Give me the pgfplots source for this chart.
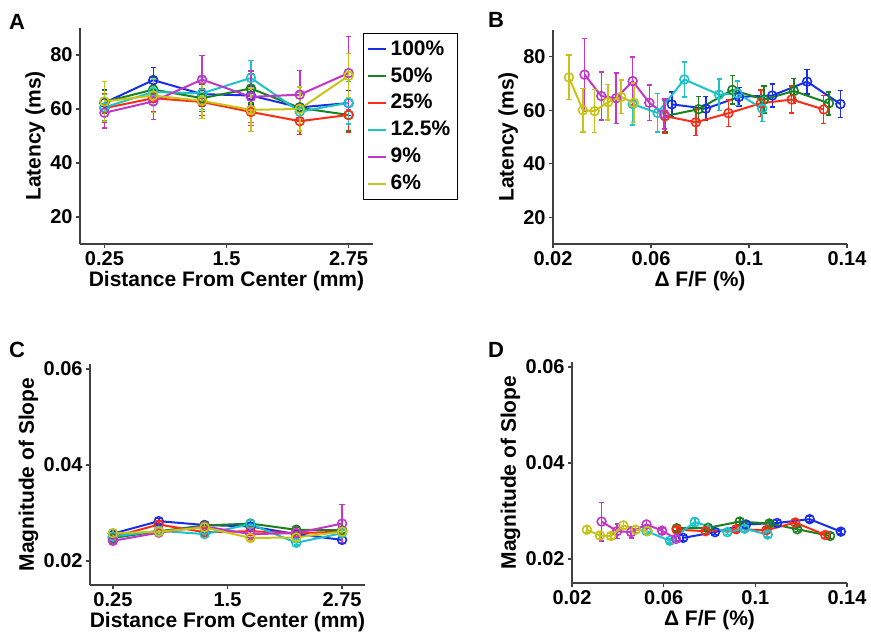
\documentclass[border=0pt]{standalone}
\usepackage{pgfplots}
\pgfplotsset{compat=1.18}
\usepackage{pgfplotstable}
\usepackage{fontspec}
\setmainfont{Liberation Sans}

\definecolor{mblue}{RGB}{25,45,235}
\definecolor{mgreen}{RGB}{25,130,30}
\definecolor{mred}{RGB}{250,45,25}
\definecolor{mcyan}{RGB}{30,195,200}
\definecolor{mmag}{RGB}{195,55,200}
\definecolor{myel}{RGB}{200,195,25}

% columns: distance, dF/F, latency (+/-), slope magnitude (+/-)
\pgfplotstableread{
dist dff    lat  laterr slope  slopeerr
0.25 0.1373 62.3 5.0 0.0257 0.0005
0.75 0.1237 70.7 4.6 0.0283 0.0006
1.25 0.1095 65.5 4.3 0.0275 0.0005
1.75 0.0959 65.0 3.5 0.0272 0.0005
2.25 0.0824 60.6 4.5 0.0256 0.0005
2.75 0.0685 62.2 4.7 0.0244 0.0005
}\tblue
\pgfplotstableread{
dist dff    lat  laterr slope  slopeerr
0.25 0.1326 62.6 4.3 0.0248 0.0005
0.75 0.1183 67.2 4.7 0.0262 0.0005
1.25 0.1061 64.0 5.0 0.0274 0.0005
1.75 0.0932 67.6 5.3 0.0278 0.0006
2.25 0.0794 60.4 4.8 0.0265 0.0005
2.75 0.0657 57.8 6.0 0.0264 0.0006
}\tgreen
\pgfplotstableread{
dist dff    lat  laterr slope  slopeerr
0.25 0.1305 60.3 5.2 0.0250 0.0005
0.75 0.1174 64.0 5.0 0.0276 0.0007
1.25 0.1048 62.6 5.0 0.0260 0.0005
1.75 0.0916 58.9 5.0 0.0262 0.0006
2.25 0.0783 55.5 5.0 0.0258 0.0005
2.75 0.0657 57.8 6.5 0.0261 0.0006
}\tred
\pgfplotstableread{
dist dff    lat  laterr slope  slopeerr
0.25 0.1054 60.6 4.8 0.0251 0.0005
0.75 0.0953 66.3 4.6 0.0263 0.0006
1.25 0.0878 65.8 5.9 0.0256 0.0005
1.75 0.0736 71.5 6.5 0.0277 0.0008
2.25 0.0627 59.0 7.2 0.0238 0.0005
2.75 0.0525 62.3 7.8 0.0258 0.0006
}\tcyan
\pgfplotstableread{
dist dff    lat  laterr slope  slopeerr
0.25 0.0654 58.6 5.6 0.0242 0.0005
0.75 0.0593 62.8 6.6 0.0259 0.0006
1.25 0.0525 70.9 9.0 0.0272 0.0008
1.75 0.0458 64.5 9.5 0.0256 0.0012
2.25 0.0397 65.3 9.0 0.0258 0.0015
2.75 0.0329 73.3 13.5 0.0278 0.0040
}\tmag
\pgfplotstableread{
dist dff    lat  laterr slope  slopeerr
0.25 0.0530 62.8 7.4 0.0258 0.0008
0.75 0.0478 65.0 6.3 0.0261 0.0007
1.25 0.0424 63.0 6.6 0.0270 0.0008
1.75 0.0370 59.7 8.0 0.0248 0.0006
2.25 0.0322 60.0 8.2 0.0249 0.0006
2.75 0.0265 72.3 8.3 0.0261 0.0007
}\tyel

\pgfplotsset{
  panel/.style={
    scale only axis,
    axis x line*=bottom, axis y line*=left,
    x axis line style={-}, y axis line style={-},
    axis line style={black!75, line width=0.6pt},
    tick style={black!75, line width=0.6pt},
    tick align=outside, major tick length=2pt,
    scaled ticks=false,
    ticklabel style={font=\fontsize{10}{12}\selectfont\bfseries, inner sep=1.5pt},
    label style={font=\fontsize{10.5}{12.5}\selectfont\bfseries},
    xlabel style={inner sep=1pt},
    ylabel style={inner sep=1pt},
    legend image code/.code={\draw[#1, mark=none, line width=1pt] (0pt,0pt) -- (9pt,0pt);},
  },
  ser/.style={color=#1, solid, line width=1pt, mark=o, mark size=2.2pt,
    mark options={solid, line width=0.8pt},
    error bars/y dir=both, error bars/y explicit,
    error bars/error bar style={line width=0.75pt},
    error bars/error mark options={line width=0.75pt, mark size=1.3pt, rotate=90}},
  latA/.style={ymin=10, ymax=90, ytick={20,40,60,80}, yticklabels={20,40,60,80},
    ylabel={Latency (ms)}},
  slopeA/.style={ymin=0.015, ymax=0.061, ytick={0.02,0.04,0.06},
    yticklabels={0.02,0.04,0.06}, ylabel={Magnitude of Slope}},
  distX/.style={xmin=0, xmax=3, xtick={0.25,1.5,2.75}, xticklabels={0.25,1.5,2.75},
    xlabel={Distance From Center (mm)}},
  dffX/.style={xmin=0.02, xmax=0.14, xtick={0.02,0.06,0.1,0.14},
    xticklabels={0.02,0.06,0.1,0.14}, xlabel={Δ F/F (\%)}},
}

\begin{document}
\begin{tikzpicture}
\path[use as bounding box] (0,0) rectangle (435.5pt,318pt);

% A
\begin{axis}[panel, latA, distX, at={(40pt,196pt)}, anchor=south west,
  width=146.5pt, height=108pt,
  legend style={at={(rel axis cs:0.966,0.977)}, anchor=north west,
    draw=black, line width=0.6pt, inner sep=1.5pt, row sep=0.6pt,
    font=\fontsize{10.5}{12.5}\selectfont\bfseries},
  legend cell align=left]
\addplot[ser=mblue] table[x=dist, y=lat, y error=laterr] {\tblue};
\addplot[ser=mgreen] table[x=dist, y=lat, y error=laterr] {\tgreen};
\addplot[ser=mred] table[x=dist, y=lat, y error=laterr] {\tred};
\addplot[ser=mcyan] table[x=dist, y=lat, y error=laterr] {\tcyan};
\addplot[ser=mmag] table[x=dist, y=lat, y error=laterr] {\tmag};
\addplot[ser=myel] table[x=dist, y=lat, y error=laterr] {\tyel};
\legend{100\%, 50\%, 25\%, 12.5\%, 9\%, 6\%}
\end{axis}

% B
\begin{axis}[panel, latA, dffX, at={(276.5pt,196pt)}, anchor=south west,
  width=147pt, height=107pt]
\addplot[ser=mblue] table[x=dff, y=lat, y error=laterr] {\tblue};
\addplot[ser=mgreen] table[x=dff, y=lat, y error=laterr] {\tgreen};
\addplot[ser=mred] table[x=dff, y=lat, y error=laterr] {\tred};
\addplot[ser=mcyan] table[x=dff, y=lat, y error=laterr] {\tcyan};
\addplot[ser=mmag] table[x=dff, y=lat, y error=laterr] {\tmag};
\addplot[ser=myel] table[x=dff, y=lat, y error=laterr] {\tyel};
\end{axis}

% C
\begin{axis}[panel, slopeA, distX, at={(45pt,25.5pt)}, anchor=south west,
  width=137.5pt, height=110.4pt]
\addplot[ser=mblue] table[x=dist, y=slope, y error=slopeerr] {\tblue};
\addplot[ser=mgreen] table[x=dist, y=slope, y error=slopeerr] {\tgreen};
\addplot[ser=mred] table[x=dist, y=slope, y error=slopeerr] {\tred};
\addplot[ser=mcyan] table[x=dist, y=slope, y error=slopeerr] {\tcyan};
\addplot[ser=mmag] table[x=dist, y=slope, y error=slopeerr] {\tmag};
\addplot[ser=myel] table[x=dist, y=slope, y error=slopeerr] {\tyel};
\end{axis}

% D
\begin{axis}[panel, slopeA, dffX, at={(286pt,26.5pt)}, anchor=south west,
  width=137.5pt, height=110.4pt]
\addplot[ser=mblue] table[x=dff, y=slope, y error=slopeerr] {\tblue};
\addplot[ser=mgreen] table[x=dff, y=slope, y error=slopeerr] {\tgreen};
\addplot[ser=mred] table[x=dff, y=slope, y error=slopeerr] {\tred};
\addplot[ser=mcyan] table[x=dff, y=slope, y error=slopeerr] {\tcyan};
\addplot[ser=mmag] table[x=dff, y=slope, y error=slopeerr] {\tmag};
\addplot[ser=myel] table[x=dff, y=slope, y error=slopeerr] {\tyel};
\end{axis}

\node[font=\fontsize{11}{13}\selectfont\bfseries] at (8.5pt,307pt) {A};
\node[font=\fontsize{11}{13}\selectfont\bfseries] at (248pt,308pt) {B};
\node[font=\fontsize{11}{13}\selectfont\bfseries] at (8.5pt,143pt) {C};
\node[font=\fontsize{11}{13}\selectfont\bfseries] at (248pt,143pt) {D};
\end{tikzpicture}
\end{document}
